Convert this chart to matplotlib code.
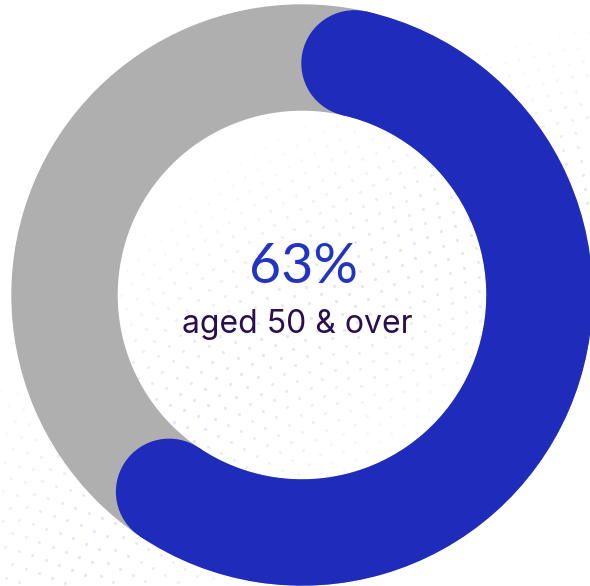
import numpy as np
import matplotlib.pyplot as plt
from matplotlib.patches import Wedge, Circle

# share of members aged 50 and over
share = 63
label = "aged 50 & over"

ring_grey = "#afafaf"
ring_blue = "#1f2bbb"
text_blue = "#2234c0"
text_dark = "#2a0f50"

fig = plt.figure(figsize=(5.9, 5.86), dpi=100)
ax = fig.add_axes([0, 0, 1, 1])
ax.set_xlim(0, 590)
ax.set_ylim(0, 586)
ax.set_aspect("equal")
ax.axis("off")

cx, cy = 302, 291
r_out, r_in = 290, 185
width = r_out - r_in
r_mid = (r_out + r_in) / 2

# faint halftone dots sweeping across the middle
for k, rr in enumerate(np.arange(520, 900, 14)):
    n = int(2 * np.pi * rr / 15)
    ang = np.linspace(0, 2 * np.pi, n, endpoint=False) + k * 0.01
    px = 720 + rr * np.cos(ang)
    py = -320 + rr * np.sin(ang)
    keep = (px > 0) & (px < 590) & (py > 0) & (py < 586)
    fade = np.clip(1 - np.abs(rr - 720) / 190, 0, 1)
    ax.scatter(px[keep], py[keep], s=5, color="#d8d8f0", alpha=0.7 * fade,
               linewidths=0, zorder=0)

# grey track
ax.add_patch(Wedge((cx, cy), r_out, 0, 360, width=width, color=ring_grey, zorder=1))

# blue arc, clockwise from the top, with rounded ends
span = share / 100 * 360
cap = np.degrees(np.arcsin((width / 2) / r_mid))
a_start = 90 - cap
a_end = 90 - (span - cap)
ax.add_patch(Wedge((cx, cy), r_out, a_end, a_start, width=width, color=ring_blue, zorder=2))
for a in (a_start, a_end):
    t = np.radians(a)
    ax.add_patch(Circle((cx + r_mid * np.cos(t), cy + r_mid * np.sin(t)), width / 2,
                        color=ring_blue, zorder=2))

ax.text(cx + 2, 586 - 283, f"{share}%", ha="center", va="baseline",
        fontsize=40, family="Lato", color=text_blue, zorder=3)
ax.text(cx - 5, 586 - 333, label, ha="center", va="baseline",
        fontsize=23, family="Inter", color=text_dark, zorder=3)

fig.savefig("out.png", dpi=100, facecolor="white")
